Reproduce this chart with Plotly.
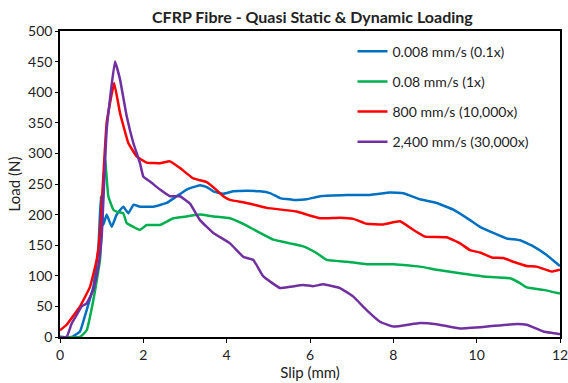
import plotly.graph_objects as go

# 0.008 mm/s (0.1x)
blue_x = [0.0, 0.28, 0.48, 0.64, 0.8, 0.92, 0.98, 1.04, 1.12, 1.24, 1.36, 1.52, 1.64, 1.76, 1.92, 2.24, 2.56, 2.8, 3.04, 3.36, 3.52, 3.68, 3.92, 4.16, 4.48, 4.8, 5.04, 5.28, 5.6, 5.92, 6.24, 6.88, 7.44, 7.92, 8.24, 8.64, 9.04, 9.44, 9.84, 10.08, 10.4, 10.72, 11.04, 11.36, 11.68, 11.96, 12.0]
blue_y = [0, 0, 9, 44, 82, 142, 230, 183, 200, 180, 200, 213, 202, 216, 213, 213, 219, 230, 241, 248, 245, 238, 234, 238, 239, 238, 235, 227, 224, 225, 230, 232, 232, 236, 235, 225, 219, 208, 191, 180, 170, 161, 158, 148, 134, 118, 116]

# 0.08 mm/s (1x)
green_x = [0.0, 0.48, 0.64, 0.8, 0.96, 1.08, 1.16, 1.28, 1.36, 1.52, 1.6, 1.76, 1.92, 2.08, 2.4, 2.72, 3.04, 3.36, 3.68, 4.08, 4.48, 4.8, 5.12, 5.52, 5.84, 6.16, 6.4, 6.88, 7.36, 7.68, 8.0, 8.64, 9.04, 9.6, 10.16, 10.8, 11.04, 11.2, 11.6, 12.0]
green_y = [0, 0, 11, 60, 126, 292, 230, 208, 205, 202, 186, 180, 175, 183, 183, 194, 197, 200, 197, 194, 182, 170, 159, 153, 148, 137, 126, 123, 119, 119, 119, 115, 110, 104, 99, 96, 88, 81, 77, 71]

# 800 mm/s (10,000x)
red_x = [0.0, 0.16, 0.48, 0.72, 0.88, 0.96, 1.12, 1.3, 1.44, 1.64, 1.84, 2.08, 2.4, 2.64, 2.88, 3.2, 3.36, 3.52, 3.76, 3.92, 4.08, 4.48, 4.96, 5.68, 5.92, 6.24, 6.72, 7.04, 7.36, 7.76, 8.16, 8.48, 8.76, 9.28, 9.6, 9.84, 10.08, 10.36, 10.64, 10.88, 11.2, 11.44, 11.8, 12.0]
red_y = [11, 20, 50, 82, 126, 170, 350, 415, 366, 317, 295, 285, 284, 287, 276, 259, 256, 253, 240, 230, 224, 219, 211, 205, 200, 194, 195, 193, 185, 184, 189, 175, 164, 163, 153, 142, 138, 130, 129, 123, 116, 115, 107, 110]

# 2,400 mm/s (30,000x)
purple_x = [0.0, 0.16, 0.28, 0.4, 0.52, 0.64, 0.8, 0.92, 1.0, 1.12, 1.32, 1.44, 1.6, 1.76, 1.92, 2.0, 2.16, 2.4, 2.64, 2.88, 3.12, 3.36, 3.68, 4.08, 4.4, 4.64, 4.88, 5.28, 5.52, 5.84, 6.08, 6.32, 6.72, 7.04, 7.36, 7.68, 8.0, 8.64, 9.04, 9.6, 10.24, 10.88, 11.2, 11.6, 11.96, 12.0]
purple_y = [0, 0, 22, 36, 50, 55, 77, 115, 164, 339, 450, 421, 361, 317, 284, 262, 254, 241, 230, 230, 218, 191, 170, 153, 131, 126, 99, 80, 82, 85, 83, 86, 80, 66, 44, 25, 17, 23, 21, 14, 17, 21, 20, 9, 5, 5]

names = ["0.008 mm/s (0.1x)", "0.08 mm/s (1x)", "800 mm/s (10,000x)", "2,400 mm/s (30,000x)"]
colors = ["#0070C0", "#00B050", "#FF0000", "#7030A0"]
series = [(blue_x, blue_y), (green_x, green_y), (red_x, red_y), (purple_x, purple_y)]

x_ticks = [0, 2, 4, 6, 8, 10, 12]
y_ticks = [0, 50, 100, 150, 200, 250, 300, 350, 400, 450, 500]

fig = go.Figure()
for (xs, ys), nm, c in zip(series, names, colors):
    fig.add_trace(go.Scatter(x=xs, y=ys, mode="lines", name=nm, legendgroup=nm,
                             line=dict(color=c, width=2.5, shape="spline", smoothing=0.3)))

font = "Lato, 'Open Sans', sans-serif"
fig.update_layout(
    width=568, height=383,
    margin=dict(l=60, r=8, t=31, b=46),
    paper_bgcolor="white", plot_bgcolor="white",
    title=dict(text="<b>CFRP Fibre - Quasi Static & Dynamic Loading</b>", x=0.55, xanchor="center",
               y=0.955, yanchor="middle", font=dict(family=font, size=16, color="#222")),
    font=dict(family=font, size=14, color="#222"),
    showlegend=True,
    legend=dict(x=0.585, y=0.985, xanchor="left", yanchor="top", bgcolor="rgba(0,0,0,0)",
                font=dict(family=font, size=14, color="#222"), tracegroupgap=9),
    xaxis=dict(range=[0, 12], tickvals=x_ticks, showgrid=False, zeroline=False,
               showline=True, linecolor="black", linewidth=1.5, mirror=True,
               ticks="outside", ticklen=4, tickcolor="black", automargin=False,
               ticklabeloverflow="allow",
               title=dict(text="Slip (mm)", standoff=4, font=dict(family=font, size=15, color="#222"))),
    yaxis=dict(range=[0, 500], tickvals=y_ticks, showgrid=False, zeroline=False,
               showline=True, linecolor="black", linewidth=1.5, mirror=True,
               ticks="outside", ticklen=3, tickcolor="black", automargin=False,
               ticklabeloverflow="allow",
               title=dict(text="Load (N)", standoff=4, font=dict(family=font, size=15, color="#222"))),
)

fig.write_html("out.html")
